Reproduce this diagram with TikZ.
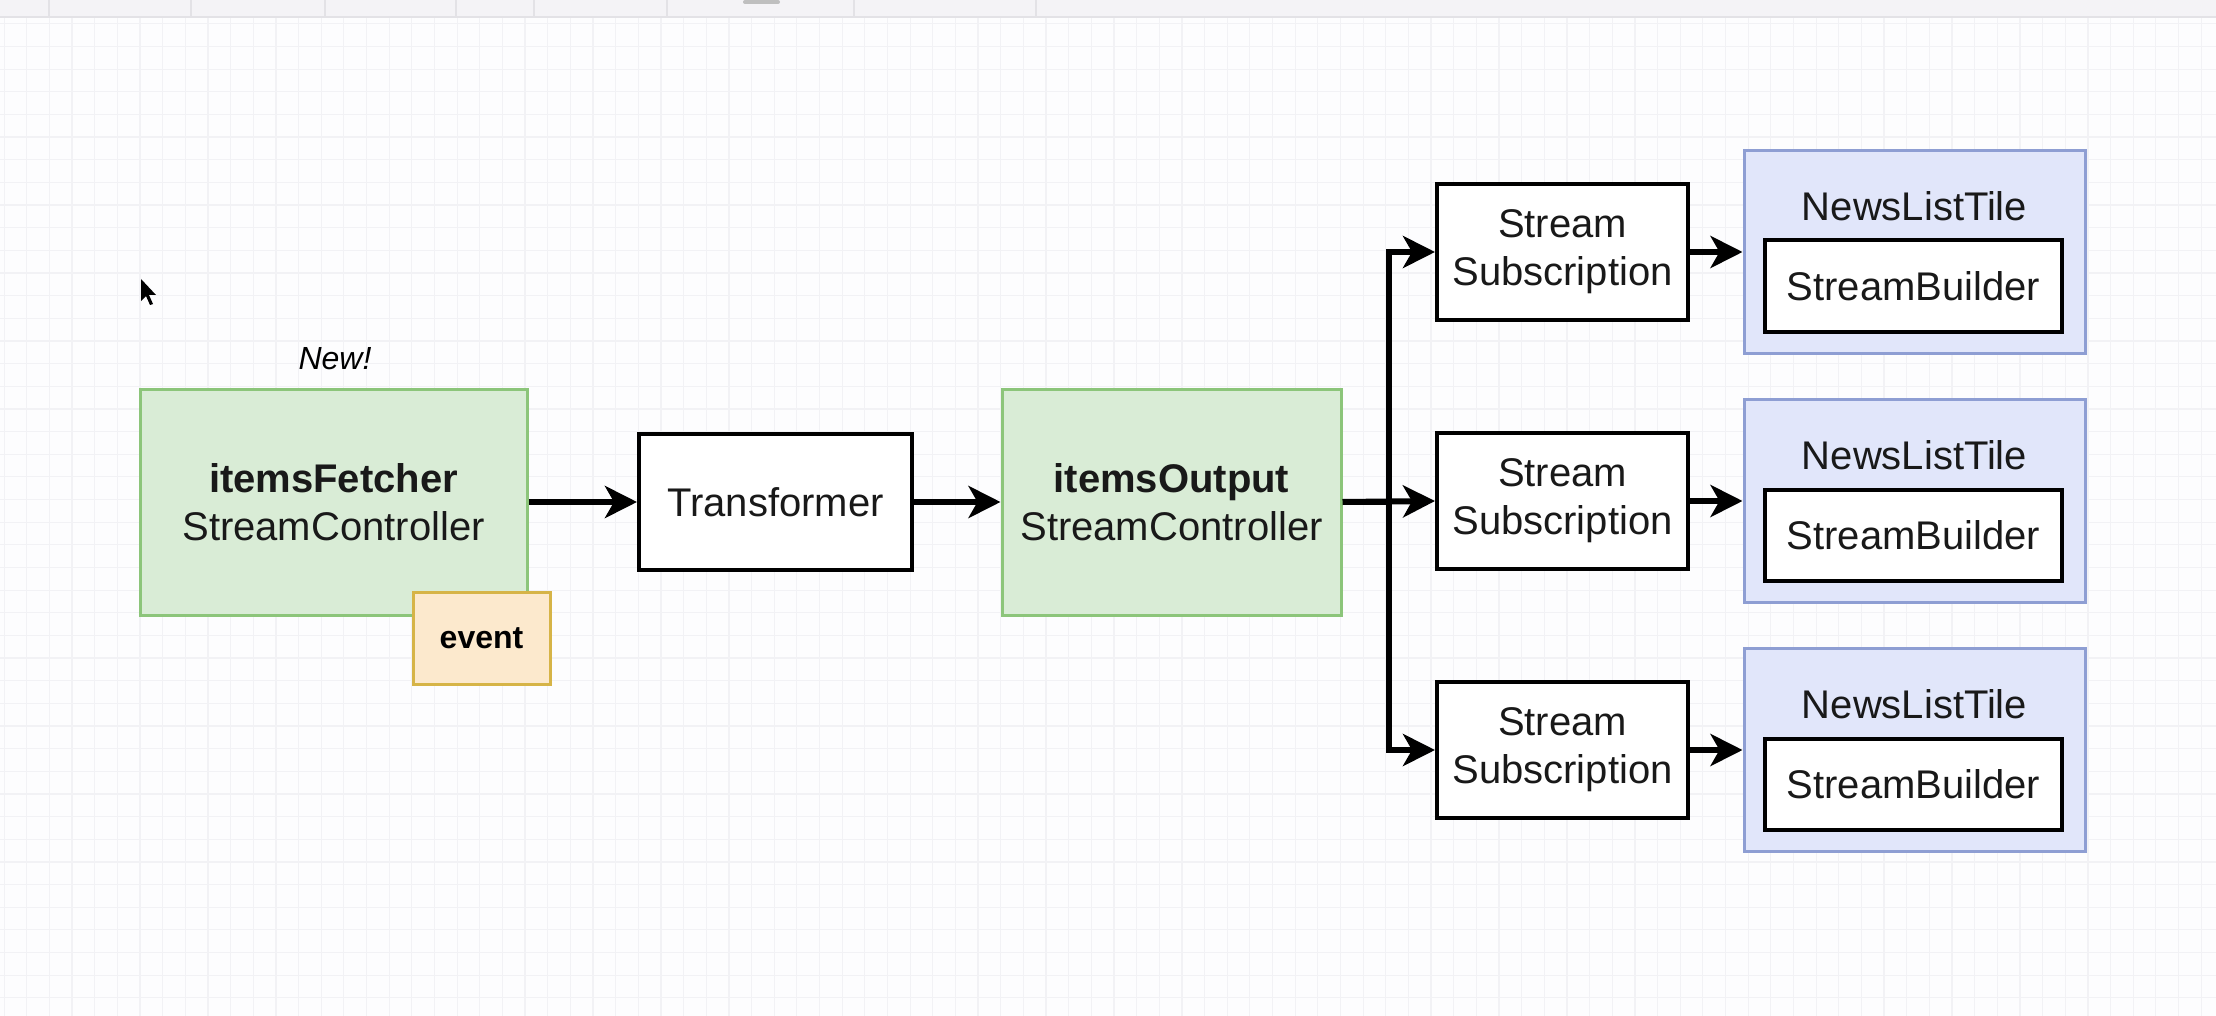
\documentclass[tikz,border=0pt]{standalone}
\usepackage{fontspec}
\setmainfont{Liberation Sans}
\usetikzlibrary{arrows.meta}

\definecolor{canvas}{HTML}{FDFDFE}
\definecolor{gridline}{HTML}{F2F2F5}
\definecolor{barfill}{HTML}{F4F3F6}
\definecolor{barline}{HTML}{E3E2E6}
\definecolor{greenfill}{HTML}{D9ECD6}
\definecolor{greenline}{HTML}{8CC57A}
\definecolor{eventfill}{HTML}{FCE9CD}
\definecolor{eventline}{HTML}{D6B447}
\definecolor{tilefill}{HTML}{E1E6FA}
\definecolor{tileline}{HTML}{8E9ED3}

\tikzset{
  label20/.style={font=\fontsize{20}{24}\selectfont, align=center, text=black!90},
  ctrlbox/.style={label20, draw=greenline, fill=greenfill, line width=1.5pt,
    minimum width=193.5pt, minimum height=113pt, inner sep=0pt},
  plainbox/.style={label20, draw=black, fill=white, line width=2pt,
    minimum width=125.5pt, minimum height=68pt, inner sep=0pt},
  tilebox/.style={draw=tileline, fill=tilefill, line width=1.5pt,
    minimum width=170.5pt, minimum height=101.5pt, inner sep=0pt},
  builderbox/.style={label20, draw=black, fill=white, line width=2pt,
    minimum width=148.5pt, minimum height=45.5pt, inner sep=0pt},
  eventbox/.style={draw=eventline, fill=eventfill, line width=1.5pt,
    minimum width=68.5pt, minimum height=46pt, inner sep=0pt,
    font=\fontsize{16}{19}\selectfont\bfseries},
  flow/.style={line width=3pt, line join=miter,
    -{Stealth[length=16pt, width=16pt, inset=4.5pt]}},
}

\begin{document}
\begin{tikzpicture}[x=0.5pt, y=-0.5pt]
  \useasboundingbox (0,0) rectangle (2216,1016);
  \fill[canvas] (0,0) rectangle (2216,1016);

  % background grid
  \foreach \k in {0,...,97}
    \draw[gridline, line width=0.6pt] (4.1+\k*22.65,17) -- (4.1+\k*22.65,1016);
  \foreach \k in {0,...,44}
    \draw[gridline, line width=0.6pt] (0,23.85+\k*22.65) -- (2216,23.85+\k*22.65);

  % editor toolbar strip
  \fill[barfill] (0,0) rectangle (2216,17);
  \draw[barline, line width=0.8pt] (0,17) -- (2216,17);
  \foreach \x in {49,191,325,456,534,667,854,1036}
    \draw[barline, line width=0.6pt] (\x,0) -- (\x,17);
  \fill[black!25, rounded corners=1pt] (743,0) rectangle (780,4);

  % pointer
  \fill[black] (141,279) -- (141,301) -- (146,296) -- (150,305) -- (153,304)
    -- (149,295) -- (156,295) -- cycle;

  % sources and transformer
  \node[ctrlbox] (fetcher) at (333.5,502) {\textbf{itemsFetcher}\\StreamController};
  \node[font=\fontsize{16}{19}\selectfont\itshape] (newtag) at (335,359) {New!};
  \node[eventbox] (event) at (481.5,638) {event};
  \node[plainbox, minimum width=136.5pt] (transformer) at (775.5,502) {Transformer};
  \node[ctrlbox, minimum width=169.5pt] (output) at (1171.5,502) {\textbf{itemsOutput}\\StreamController};

  % subscriptions and tiles
  \foreach \i/\y in {1/252, 2/501, 3/750} {
    \node[plainbox] (sub\i) at (1562.5,\y) {Stream\\Subscription};
    \node[tilebox] (tile\i) at (1914.5,\y) {};
    \node[label20, anchor=center] (tiletitle\i) at (1914.5,\y-45.5) {NewsListTile};
    \node[builderbox] (builder\i) at (1913.5,\y+34) {StreamBuilder};
  }

  % connectors
  \coordinate (split) at (1389,502);
  \draw[flow] (fetcher.east) -- (transformer.west);
  \draw[flow] (transformer.east) -- (output.west);
  \draw[flow] (output.east) -- (sub2.west);
  \draw[flow] (output.east) -- (split) |- (sub1.west);
  \draw[flow] (output.east) -- (split) |- (sub3.west);
  \foreach \i in {1,2,3}
    \draw[flow] (sub\i.east) -- (tile\i.west |- sub\i.east);
\end{tikzpicture}
\end{document}
